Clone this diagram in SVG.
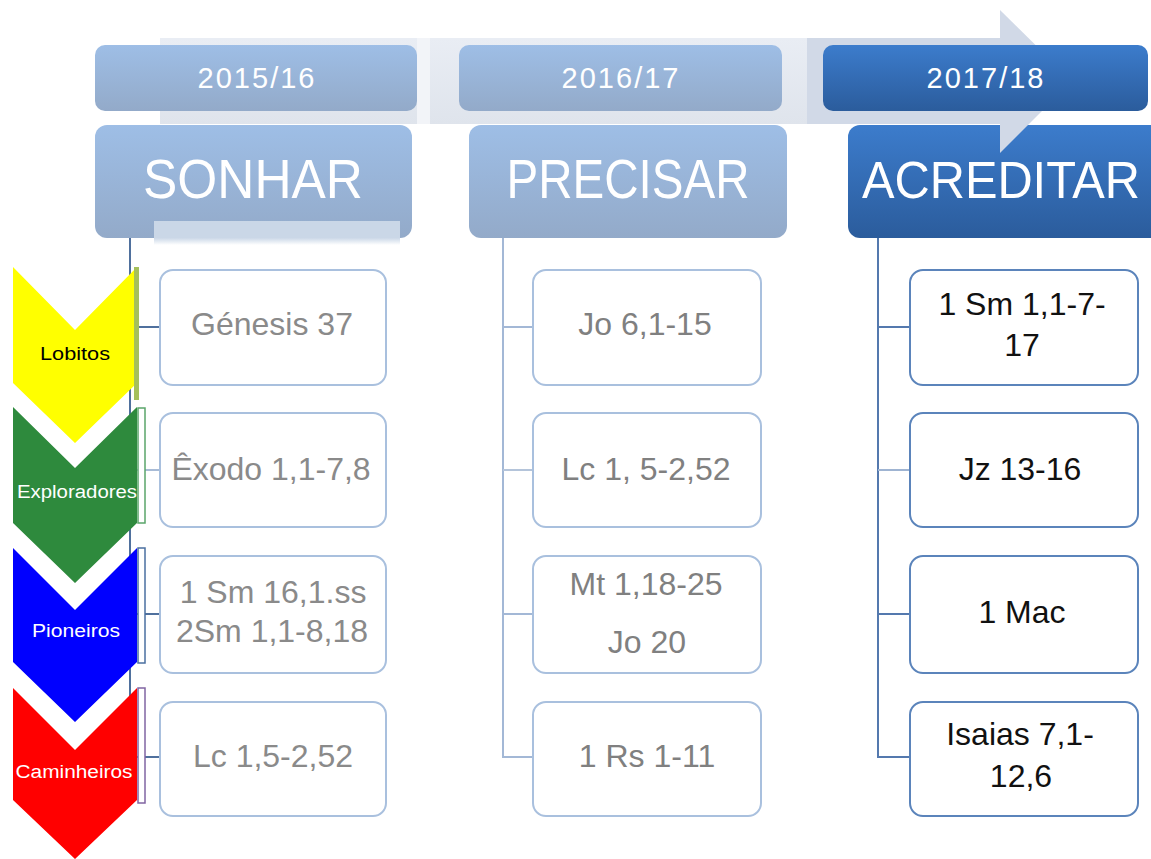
<svg xmlns="http://www.w3.org/2000/svg" width="1151" height="859" viewBox="0 0 1151 859">
<defs>
<linearGradient id="gLight" x1="0" y1="0" x2="0" y2="1"><stop offset="0" stop-color="#9ebee6"/><stop offset="1" stop-color="#93aac9"/></linearGradient>
<linearGradient id="gDark" x1="0" y1="0" x2="0" y2="1"><stop offset="0" stop-color="#3c7ccc"/><stop offset="1" stop-color="#2b5c9c"/></linearGradient>
<linearGradient id="gBand" x1="0" y1="0" x2="0" y2="1"><stop offset="0" stop-color="#e9edf4"/><stop offset="1" stop-color="#dfe4ec"/></linearGradient>
<linearGradient id="gStrip" x1="0" y1="0" x2="0" y2="1"><stop offset="0" stop-color="#cad7e7"/><stop offset="0.7" stop-color="#cad7e7"/><stop offset="1" stop-color="#cad7e7" stop-opacity="0"/></linearGradient>
</defs>
<style>
.yr{font-family:"Liberation Sans",Arial,sans-serif;font-size:29px;fill:#ffffff;text-anchor:middle}
.ttl{font-family:"Liberation Sans",Arial,sans-serif;font-size:56px;fill:#ffffff;text-anchor:middle}
.cb{fill:#ffffff;stroke-width:2}
.cbL{stroke:#a9c0de}
.cbD{stroke:#5b84bb}
.ct{font-family:"Liberation Sans",Arial,sans-serif;font-size:32px;text-anchor:middle}
.g1{fill:#8a8a8a}
.g2{fill:#808080}
.k{fill:#111111}
.lbl{font-family:"Liberation Sans",Arial,sans-serif;font-size:18px;text-anchor:middle}
.ln{fill:none;stroke-width:2}
</style>
<rect width="1151" height="859" fill="#ffffff"/>

<g id="connectors">
<path class="ln" stroke="#4f709d" d="M130 238 V757 M130 327 H160 M130 614 H160 M130 757 H160"/>
<path class="ln" stroke="#a8bbd6" stroke-width="3" d="M130 470 H160"/>
<path class="ln" stroke="#a3b8d6" d="M503 238 V757 H533 M503 327 H533 M503 614 H533"/>
<path class="ln" stroke="#b4c4da" stroke-width="3" d="M503 470 H533"/>
<path class="ln" stroke="#5479ae" d="M878 238 V757 H910 M878 327 H910 M878 614 H910"/>
<path class="ln" stroke="#9fb4d2" stroke-width="3" d="M878 470 H910"/>
</g>

<g id="title-sonhar">
<rect x="95" y="125" width="317" height="113" rx="12" fill="url(#gLight)"/>
<rect x="154" y="221" width="246" height="24" fill="url(#gStrip)"/>
<text class="ttl" x="253" y="198" textLength="220" lengthAdjust="spacingAndGlyphs">SONHAR</text>
</g>
<g id="title-precisar">
<rect x="469" y="125" width="318" height="113" rx="12" fill="url(#gLight)"/>
<text class="ttl" x="628" y="198" textLength="243" lengthAdjust="spacingAndGlyphs">PRECISAR</text>
</g>
<g id="title-acreditar">
<path d="M860 125 H1151 V238 H860 A12 12 0 0 1 848 226 V137 A12 12 0 0 1 860 125 Z" fill="url(#gDark)"/>
</g>

<g id="timeline-arrow">
<rect x="160" y="38" width="257" height="86" fill="url(#gBand)"/>
<rect x="417" y="38" width="13" height="86" fill="#f2f4f8"/>
<rect x="430" y="38" width="377" height="86" fill="url(#gBand)"/>
<rect x="807" y="38" width="194" height="86" fill="#d1d9e7"/>
<polygon points="1000,10 1072,81 1000,153" fill="#d1d9e7"/>
</g>
<text class="ttl" x="1001" y="198" style="font-size:51px" textLength="278" lengthAdjust="spacingAndGlyphs">ACREDITAR</text>

<g id="year-2015">
<rect x="95" y="45" width="322" height="66" rx="10" fill="url(#gLight)"/>
<text class="yr" x="256" y="88" textLength="117" lengthAdjust="spacing">2015/16</text>
</g>
<g id="year-2016">
<rect x="459" y="45" width="323" height="66" rx="10" fill="url(#gLight)"/>
<text class="yr" x="620" y="88" textLength="117" lengthAdjust="spacing">2016/17</text>
</g>
<g id="year-2017">
<rect x="823" y="45" width="325" height="66" rx="10" fill="url(#gDark)"/>
<text class="yr" x="985" y="88" textLength="117" lengthAdjust="spacing">2017/18</text>
</g>

<g id="chevron-lobitos">
<polygon points="13,267 75,330 137,267 137,383 75,443 13,383" fill="#ffff00"/>
<rect x="134" y="267" width="5" height="133" fill="#a5c05b"/>
<text class="lbl" x="75" y="360" fill="#000000" textLength="70" lengthAdjust="spacingAndGlyphs">Lobitos</text>
</g>
<g id="chevron-exploradores">
<polygon points="13,407 75,468 137,407 137,523 75,583 13,523" fill="#2e8a3d"/>
<rect x="138" y="408" width="7" height="115" fill="#ffffff" stroke="#5aa56a" stroke-width="1.5"/>
<text class="lbl" x="77" y="498" fill="#ffffff" textLength="120" lengthAdjust="spacingAndGlyphs">Exploradores</text>
</g>
<g id="chevron-pioneiros">
<polygon points="13,548 75,610 137,548 137,662 75,722 13,662" fill="#0000ff"/>
<rect x="138" y="548" width="7" height="115" fill="#ffffff" stroke="#4a6fa0" stroke-width="1.5"/>
<text class="lbl" x="76" y="637" fill="#ffffff" textLength="88" lengthAdjust="spacingAndGlyphs">Pioneiros</text>
</g>
<g id="chevron-caminheiros">
<polygon points="13,688 75,750 137,688 137,800 75,859 13,800" fill="#ff0000"/>
<rect x="138" y="688" width="7" height="115" fill="#ffffff" stroke="#8064a2" stroke-width="1.5"/>
<text class="lbl" x="74" y="778" fill="#ffffff" textLength="117" lengthAdjust="spacingAndGlyphs">Caminheiros</text>
</g>

<g id="s1"><rect class="cb cbL" x="160" y="270" width="226" height="115" rx="13"/><text class="ct g1" x="272" y="335">Génesis 37</text></g>
<g id="s2"><rect class="cb cbL" x="160" y="413" width="226" height="114" rx="13"/><text class="ct g1" x="271" y="480">Êxodo 1,1-7,8</text></g>
<g id="s3"><rect class="cb cbL" x="160" y="556" width="226" height="117" rx="13"/><text class="ct g1" x="273" y="603">1 Sm 16,1.ss</text><text class="ct g1" x="272" y="642">2Sm 1,1-8,18</text></g>
<g id="s4"><rect class="cb cbL" x="160" y="702" width="226" height="114" rx="13"/><text class="ct g1" x="273" y="767">Lc 1,5-2,52</text></g>

<g id="p1"><rect class="cb cbL" x="533" y="270" width="228" height="115" rx="13"/><text class="ct g2" x="645" y="335">Jo 6,1-15</text></g>
<g id="p2"><rect class="cb cbL" x="533" y="413" width="228" height="114" rx="13"/><text class="ct g2" x="646" y="480">Lc 1, 5-2,52</text></g>
<g id="p3"><rect class="cb cbL" x="533" y="556" width="228" height="117" rx="13"/><text class="ct g2" x="646" y="595">Mt 1,18-25</text><text class="ct g2" x="647" y="653">Jo 20</text></g>
<g id="p4"><rect class="cb cbL" x="533" y="702" width="228" height="114" rx="13"/><text class="ct g2" x="647" y="767">1 Rs 1-11</text></g>

<g id="a1"><rect class="cb cbD" x="910" y="270" width="228" height="115" rx="13"/><text class="ct k" x="1022" y="315">1 Sm 1,1-7-</text><text class="ct k" x="1022" y="356">17</text></g>
<g id="a2"><rect class="cb cbD" x="910" y="413" width="228" height="114" rx="13"/><text class="ct k" x="1020" y="480">Jz 13-16</text></g>
<g id="a3"><rect class="cb cbD" x="910" y="556" width="228" height="117" rx="13"/><text class="ct k" x="1022" y="623">1 Mac</text></g>
<g id="a4"><rect class="cb cbD" x="910" y="702" width="228" height="114" rx="13"/><text class="ct k" x="1020" y="745">Isaias 7,1-</text><text class="ct k" x="1021" y="787">12,6</text></g>
</svg>
